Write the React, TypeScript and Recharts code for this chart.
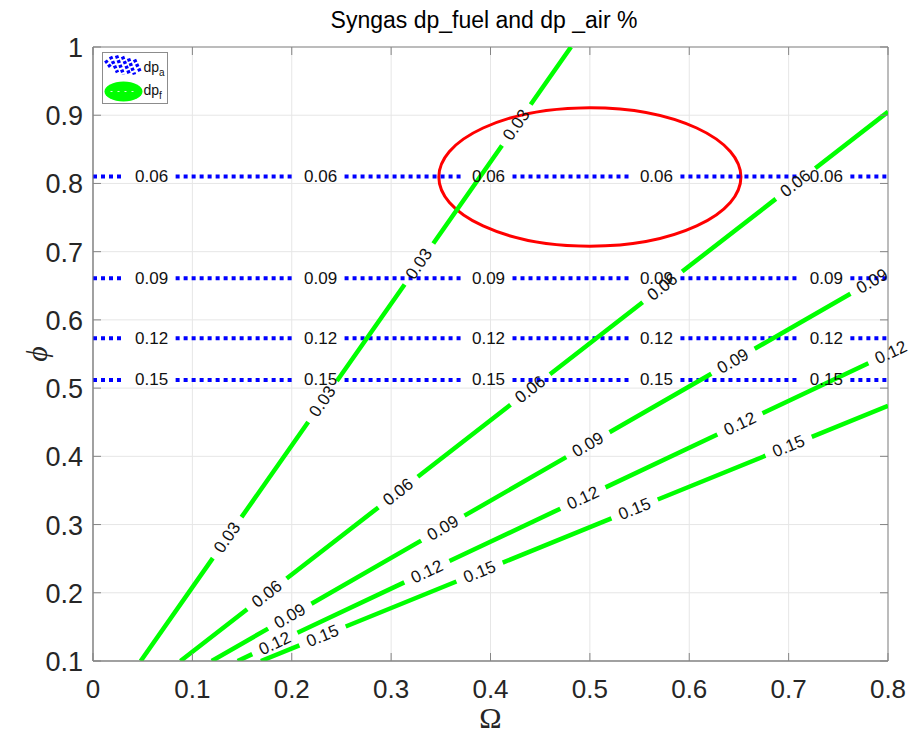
import React from 'react';
import {
  ComposedChart,
  Line,
  XAxis,
  YAxis,
  CartesianGrid,
  ReferenceLine,
  ReferenceDot,
  ReferenceArea,
} from 'recharts';

// ---------- data ----------
const xTicks = [0, 0.1, 0.2, 0.3, 0.4, 0.5, 0.6, 0.7, 0.8];
const yTicks = [0.1, 0.2, 0.3, 0.4, 0.5, 0.6, 0.7, 0.8, 0.9, 1];

// fuel-side pressure drop contours (green)
const fuelLevels = ['0.03', '0.06', '0.09', '0.12', '0.15'];
const fuelStartOmega = [0.048, 0.088, 0.1195, 0.1456, 0.169];
const fuelStartPhi = [0.1, 0.1, 0.1, 0.1, 0.1];
const fuelEndOmega = [0.481, 0.8, 0.8, 0.8, 0.8];
const fuelEndPhi = [1.0, 0.905, 0.67, 0.55, 0.474];
const fuelLabelOmega = [
  [0.135, 0.231, 0.328, 0.426],
  [0.175, 0.307, 0.44, 0.573, 0.707],
  [0.198, 0.352, 0.498, 0.644, 0.784],
  [0.183, 0.336, 0.493, 0.651, 0.803],
  [0.231, 0.389, 0.545, 0.7],
];

// air-side pressure drop contours (blue, dotted)
const airLevels = ['0.06', '0.09', '0.12', '0.15'];
const airPhi = [0.81, 0.661, 0.573, 0.512];
const airLabelOmega = [0.059, 0.229, 0.398, 0.567, 0.738];

// highlighted region
const ellipseOmega = [0.348, 0.652];
const ellipsePhi = [0.708, 0.911];

// ---------- layout ----------
const W = 910;
const H = 736;
const MARGIN = { top: 47, right: 22, bottom: 0, left: 0 };
const Y_AXIS_W = 93;
const X_AXIS_H = 75;
const PW = W - MARGIN.left - MARGIN.right - Y_AXIS_W;
const PH = H - MARGIN.top - MARGIN.bottom - X_AXIS_H;
const X_DOMAIN: [number, number] = [0, 0.8];
const Y_DOMAIN: [number, number] = [0.1, 1];
const PX_X = PW / (X_DOMAIN[1] - X_DOMAIN[0]);
const PX_Y = PH / (Y_DOMAIN[1] - Y_DOMAIN[0]);

const FONT = '"Liberation Sans", Arial, Helvetica, sans-serif';
const SERIF = '"Liberation Serif", "Times New Roman", serif';
const AXIS = '#858585';
const GRID = '#e6e6e6';
const GREEN = '#00ff00';
const BLUE = '#0000ff';
const LABEL_SIZE = 17;
const FUEL_GAP = 25;
const AIR_GAP = 24;
const DOT = 4;
const PERIOD = 8;

const fmt = (v: number) => String(Number(v.toFixed(1)));

function fuelSlope(i: number) {
  return (fuelEndPhi[i] - fuelStartPhi[i]) / (fuelEndOmega[i] - fuelStartOmega[i]);
}

function fuelDash(i: number) {
  const dx = (fuelEndOmega[i] - fuelStartOmega[i]) * PX_X;
  const dy = (fuelEndPhi[i] - fuelStartPhi[i]) * PX_Y;
  const L = Math.hypot(dx, dy);
  const arr: number[] = [];
  let pos = 0;
  fuelLabelOmega[i].forEach((o) => {
    const d = ((o - fuelStartOmega[i]) / (fuelEndOmega[i] - fuelStartOmega[i])) * L;
    const a = Math.max(pos, d - FUEL_GAP);
    const b = Math.min(L, d + FUEL_GAP);
    arr.push(Math.max(0, a - pos), Math.max(0, b - a));
    pos = Math.max(pos, b);
  });
  arr.push(Math.max(0, L - pos), L + 20);
  return arr.map((v) => v.toFixed(2)).join(' ');
}

function airDash() {
  const zones = airLabelOmega.map((o) => [o * PX_X - AIR_GAP, o * PX_X + AIR_GAP]);
  const segs: number[][] = [];
  let cur = 0;
  zones.forEach(([a, b]) => {
    segs.push([cur, a]);
    cur = b;
  });
  segs.push([cur, PW]);
  const starts: number[] = [];
  segs.forEach(([a, b]) => {
    for (let s = a; s + DOT <= b + 0.5; s += PERIOD) starts.push(s);
  });
  const arr: number[] = [];
  starts.forEach((s, k) => {
    if (k === 0 && s > 0) arr.push(0, s);
    arr.push(DOT);
    const next = starts[k + 1];
    arr.push(next !== undefined ? next - (s + DOT) : PW + 20);
  });
  return arr.map((v) => v.toFixed(2)).join(' ');
}

const fuelData = fuelLevels.map((_, i) => [
  { x: fuelStartOmega[i], y: fuelStartPhi[i] },
  { x: fuelEndOmega[i], y: fuelEndPhi[i] },
]);

const XTick = (p: any) => {
  const { x, y, payload } = p;
  return (
    <g>
      <text x={x} y={y + 37} textAnchor="middle" fontSize={26} fill="#262626" fontFamily={FONT}>
        {fmt(payload.value)}
      </text>
      <line x1={x} x2={x} y1={y} y2={y - 8} stroke={AXIS} />
      <line x1={x} x2={x} y1={y - PH} y2={y - PH + 8} stroke={AXIS} />
    </g>
  );
};

const YTick = (p: any) => {
  const { x, y, payload } = p;
  return (
    <g>
      <text x={x - 10} y={y + 10} textAnchor="end" fontSize={27} fill="#262626" fontFamily={FONT}>
        {fmt(payload.value)}
      </text>
      <line x1={x} x2={x + 8} y1={y} y2={y} stroke={AXIS} />
      <line x1={x + PW} x2={x + PW - 8} y1={y} y2={y} stroke={AXIS} />
    </g>
  );
};

export default function App() {
  const blueDash = airDash();
  return (
    <div style={{ position: 'absolute', left: 0, top: 0, width: W, height: H, background: '#fff' }}>
      <ComposedChart width={W} height={H} margin={MARGIN}>
        <CartesianGrid stroke={GRID} strokeWidth={1} />
        <XAxis
          type="number"
          dataKey="x"
          domain={X_DOMAIN}
          ticks={xTicks}
          allowDataOverflow
          height={X_AXIS_H}
          tickSize={0}
          tickMargin={0}
          tickLine={false}
          axisLine={{ stroke: AXIS }}
          tick={<XTick />}
          interval={0}
          label={{
            value: 'Ω',
            position: 'insideBottom',
            offset: 8,
            fontSize: 30,
            fill: '#262626',
            fontFamily: SERIF,
          }}
        />
        <YAxis
          type="number"
          domain={Y_DOMAIN}
          ticks={yTicks}
          allowDataOverflow
          width={Y_AXIS_W}
          tickSize={0}
          tickMargin={0}
          tickLine={false}
          axisLine={{ stroke: AXIS }}
          tick={<YTick />}
          interval={0}
          label={{
            content: (props: any) => {
              const vb = props.viewBox || { x: 0, y: MARGIN.top, height: PH };
              const cx = 36;
              const cy = vb.y + vb.height / 2;
              return (
                <text
                  x={cx}
                  y={cy}
                  transform={`rotate(-90 ${cx} ${cy})`}
                  textAnchor="middle"
                  dominantBaseline="central"
                  fontSize={30}
                  fontStyle="italic"
                  fill="#262626"
                  fontFamily={SERIF}
                >
                  ϕ
                </text>
              );
            },
          }}
        />

        {airPhi.map((phi, i) => (
          <ReferenceLine
            key={`air-${i}`}
            y={phi}
            stroke={BLUE}
            strokeWidth={4}
            strokeDasharray={blueDash}
          />
        ))}

        {fuelData.map((d, i) => (
          <Line
            key={`fuel-${i}`}
            data={d}
            dataKey="y"
            type="linear"
            stroke={GREEN}
            strokeWidth={4.5}
            strokeDasharray={fuelDash(i)}
            dot={false}
            activeDot={false}
            isAnimationActive={false}
            legendType="none"
          />
        ))}

        <ReferenceArea
          x1={ellipseOmega[0]}
          x2={ellipseOmega[1]}
          y1={ellipsePhi[0]}
          y2={ellipsePhi[1]}
          shape={(p: any) => (
            <ellipse
              cx={p.x + p.width / 2}
              cy={p.y + p.height / 2}
              rx={Math.abs(p.width) / 2}
              ry={Math.abs(p.height) / 2}
              fill="none"
              stroke="#ff0000"
              strokeWidth={3}
            />
          )}
        />

        {airPhi.map((phi, i) =>
          airLabelOmega.map((o, j) => (
            <ReferenceDot
              key={`airlab-${i}-${j}`}
              x={o}
              y={phi}
              r={0}
              ifOverflow="visible"
              shape={(p: any) => (
                <text
                  x={p.cx}
                  y={p.cy}
                  textAnchor="middle"
                  dominantBaseline="central"
                  fontSize={LABEL_SIZE}
                  fill="#111"
                  fontFamily={FONT}
                >
                  {airLevels[i]}
                </text>
              )}
            />
          ))
        )}

        {fuelLevels.map((lvl, i) => {
          const s = fuelSlope(i);
          const ang = (-Math.atan((s * PX_Y) / PX_X) * 180) / Math.PI;
          return fuelLabelOmega[i].map((o, j) => (
            <ReferenceDot
              key={`fuellab-${i}-${j}`}
              x={o}
              y={fuelStartPhi[i] + s * (o - fuelStartOmega[i])}
              r={0}
              ifOverflow="visible"
              shape={(p: any) => (
                <text
                  x={p.cx}
                  y={p.cy}
                  transform={`rotate(${ang.toFixed(2)} ${p.cx} ${p.cy})`}
                  textAnchor="middle"
                  dominantBaseline="central"
                  fontSize={LABEL_SIZE}
                  fill="#111"
                  fontFamily={FONT}
                >
                  {lvl}
                </text>
              )}
            />
          ));
        })}

        <ReferenceArea
          x1={X_DOMAIN[0]}
          x2={X_DOMAIN[1]}
          y1={Y_DOMAIN[0]}
          y2={Y_DOMAIN[1]}
          fill="none"
          fillOpacity={0}
          stroke={AXIS}
          strokeWidth={1}
        />
      </ComposedChart>

      <svg
        width={W}
        height={H}
        style={{ position: 'absolute', left: 0, top: 0, pointerEvents: 'none' }}
      >
        <text x={484} y={28} textAnchor="middle" fontSize={23} fill="#000" fontFamily={FONT}>
          Syngas dp_fuel and dp _air %
        </text>
        <g transform="translate(102.5 52.5)">
          <rect x={0} y={0} width={65} height={51} fill="#fff" stroke="#8c8c8c" strokeWidth={1} />
          {[
            [3, 8, 9, 16],
            [8, 4, 15, 20],
            [14, 3, 21, 22],
            [20, 4, 27, 22],
            [26, 6, 32, 22],
            [32, 7, 38, 20],
          ].map(([x1, y1, x2, y2], k) => (
            <line
              key={k}
              x1={x1}
              y1={y1}
              x2={x2}
              y2={y2}
              stroke={BLUE}
              strokeWidth={3.5}
              strokeDasharray="3 2"
            />
          ))}
          <text x={41} y={19} fontSize={14} fill="#111" fontFamily={FONT}>
            dp<tspan fontSize={10} dy={4}>a</tspan>
          </text>
          <ellipse cx={21} cy={39} rx={19} ry={10} fill={GREEN} />
          <line x1={8} x2={34} y1={39} y2={39} stroke="#d8ffd8" strokeWidth={1} strokeDasharray="2 5" />
          <text x={41} y={42} fontSize={14} fill="#111" fontFamily={FONT}>
            dp<tspan fontSize={10} dy={4}>f</tspan>
          </text>
        </g>
      </svg>
    </div>
  );
}
